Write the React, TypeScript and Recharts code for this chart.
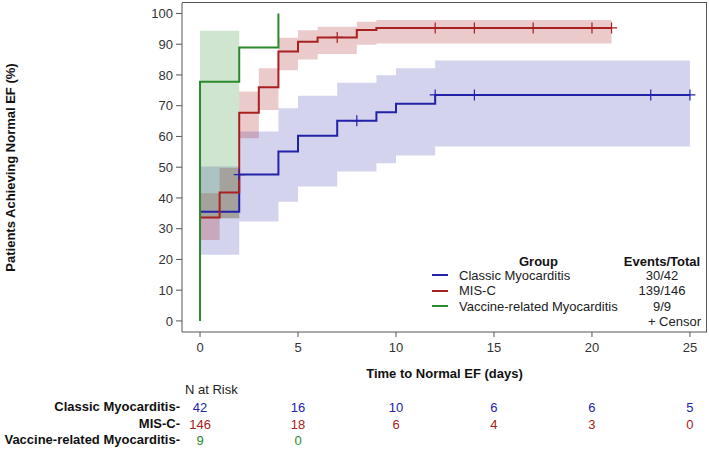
import React from 'react';
import {
  ComposedChart,
  Line,
  Area,
  Scatter,
  XAxis,
  YAxis,
} from 'recharts';

// axis ticks
const xTicks = [0, 5, 10, 15, 20, 25];
const yTicks = [0, 10, 20, 30, 40, 50, 60, 70, 80, 90, 100];

// Kaplan-Meier steps (day, % achieving normal EF)
const classicDays = [0, 2, 4, 5, 7, 9, 10, 12, 25];
const classicPct = [35.5, 47.6, 55.1, 60.2, 65.1, 67.9, 70.6, 73.5, 73.5];
const misDays = [0, 1, 2, 3, 4, 5, 6, 8, 9, 21];
const misPct = [33.6, 41.8, 67.7, 76.0, 87.6, 90.8, 92.2, 94.6, 95.3, 95.3];
const vaccineDays = [0, 0, 2, 4];
const vaccinePct = [0, 77.8, 88.9, 100];

// confidence bands
const classicBandDays = [0, 2, 4, 5, 7, 9, 10, 12, 25];
const classicLo = [21.5, 32.3, 38.8, 43.7, 48.6, 51.3, 53.8, 56.7, 56.7];
const classicHi = [50.2, 61.6, 69.2, 73.2, 77.5, 79.9, 82.2, 84.7, 84.7];
const misBandDays = [0, 1, 2, 3, 4, 5, 6, 8, 9, 21];
const misLo = [26.3, 33.4, 59.4, 68.6, 81.5, 85.0, 86.8, 89.8, 90.2, 90.2];
const misHi = [41.5, 49.7, 74.6, 82.2, 92.1, 94.5, 95.7, 97.3, 97.9, 97.9];
const vaccineBandDays = [0, 2];
const vaccineLo = [33.4, 33.4];
const vaccineHi = [94.4, 94.4];

// censored observations
const classicCensorDays = [2, 8, 12, 14, 23, 25];
const classicCensorPct = [47.6, 65.1, 73.5, 73.5, 73.5, 73.5];
const misCensorDays = [7, 12, 14, 17, 20, 21];
const misCensorPct = [92.2, 95.3, 95.3, 95.3, 95.3, 95.3];

// number at risk at each x tick
const riskClassic = [42, 16, 10, 6, 6, 5];
const riskMis = [146, 18, 6, 4, 3, 0];
const riskVaccine = [9, 0];

const groups = ['Classic Myocarditis', 'MIS-C', 'Vaccine-related Myocarditis'];
const eventsTotal = ['30/42', '139/146', '9/9'];

const BLUE = '#2222a8';
const RED = '#a82020';
const GREEN = '#2a8a2a';
const AXIS = '#555';
const FONT = '"Liberation Sans", Arial, sans-serif';

const X_MIN = -0.92;
const X_MAX = 25.87;
const Y_MIN = -3.6;
const Y_MAX = 103.4;

const toSteps = (days: number[], pct: number[]) => days.map((x, i) => ({ x, y: pct[i] }));
const toBand = (days: number[], lo: number[], hi: number[]) =>
  days.map((x, i) => ({ x, range: [lo[i], hi[i]] }));
const toRisk = (vals: number[]) => vals.map((n, i) => ({ x: xTicks[i], y: Y_MIN, n }));

const plusShape = (color: string) => (props: any) => {
  const { cx, cy } = props;
  return (
    <path
      d={`M${cx - 5.5},${cy}H${cx + 5.5}M${cx},${cy - 5.5}V${cy + 5.5}`}
      stroke={color}
      strokeWidth={1.2}
      fill="none"
    />
  );
};

// at-risk numbers hang below the x axis, one row per group
const riskShape = (color: string, dy: number) => (props: any) => (
  <text
    x={props.cx}
    y={props.cy + dy}
    fill={color}
    textAnchor="middle"
    dominantBaseline="central"
    fontSize={13}
    fontFamily={FONT}
  >
    {props.payload.n}
  </text>
);

const rowLabel: React.CSSProperties = {
  position: 'absolute',
  right: 529,
  fontWeight: 'bold',
  fontSize: 13,
  lineHeight: '16px',
  whiteSpace: 'nowrap',
  color: '#111',
};

export default function App() {
  const colors = [BLUE, RED, GREEN];
  return (
    <div style={{ position: 'absolute', left: 0, top: 0, width: 709, height: 451, fontFamily: FONT, background: '#fff' }}>
      <ComposedChart width={709} height={451} margin={{ top: 3, right: 2, left: 0, bottom: 69 }}>
        <XAxis
          dataKey="x"
          type="number"
          domain={[X_MIN, X_MAX]}
          ticks={xTicks}
          height={50}
          tickSize={5}
          tickMargin={6}
          axisLine={{ stroke: AXIS }}
          tickLine={{ stroke: AXIS }}
          tick={{ fill: '#333', fontSize: 13, fontFamily: FONT }}
          label={{
            value: 'Time to Normal EF (days)',
            position: 'insideBottom',
            offset: 4.5,
            style: { fontWeight: 'bold', fontSize: 13, fill: '#111', fontFamily: FONT },
          }}
        />
        <YAxis
          dataKey="y"
          type="number"
          domain={[Y_MIN, Y_MAX]}
          ticks={yTicks}
          width={182}
          tickSize={6}
          tickMargin={3}
          axisLine={{ stroke: AXIS }}
          tickLine={{ stroke: AXIS }}
          tick={{ fill: '#333', fontSize: 13, fontFamily: FONT }}
          label={{
            value: 'Patients Achieving Normal EF (%)',
            angle: -90,
            position: 'insideLeft',
            offset: 10,
            style: { textAnchor: 'middle', fontWeight: 'bold', fontSize: 13, fill: '#111', fontFamily: FONT },
          }}
        />

        <Area
          data={toBand(classicBandDays, classicLo, classicHi)}
          dataKey="range"
          type="stepAfter"
          fill={BLUE}
          fillOpacity={0.2}
          stroke="none"
          isAnimationActive={false}
          activeDot={false}
        />
        <Area
          data={toBand(misBandDays, misLo, misHi)}
          dataKey="range"
          type="stepAfter"
          fill={RED}
          fillOpacity={0.24}
          stroke="none"
          isAnimationActive={false}
          activeDot={false}
        />
        <Area
          data={toBand(vaccineBandDays, vaccineLo, vaccineHi)}
          dataKey="range"
          type="stepAfter"
          fill={GREEN}
          fillOpacity={0.22}
          stroke="none"
          isAnimationActive={false}
          activeDot={false}
        />

        <Line data={toSteps(classicDays, classicPct)} dataKey="y" type="stepAfter" stroke={BLUE} strokeWidth={2} dot={false} activeDot={false} isAnimationActive={false} />
        <Line data={toSteps(misDays, misPct)} dataKey="y" type="stepAfter" stroke={RED} strokeWidth={2} dot={false} activeDot={false} isAnimationActive={false} />
        <Line data={toSteps(vaccineDays, vaccinePct)} dataKey="y" type="stepAfter" stroke={GREEN} strokeWidth={2} dot={false} activeDot={false} isAnimationActive={false} />

        <Scatter data={toSteps(classicCensorDays, classicCensorPct)} shape={plusShape(BLUE)} isAnimationActive={false} />
        <Scatter data={toSteps(misCensorDays, misCensorPct)} shape={plusShape(RED)} isAnimationActive={false} />

        <Scatter data={toRisk(riskClassic)} shape={riskShape(BLUE, 75)} isAnimationActive={false} />
        <Scatter data={toRisk(riskMis)} shape={riskShape(RED, 92)} isAnimationActive={false} />
        <Scatter data={toRisk(riskVaccine)} shape={riskShape(GREEN, 108)} isAnimationActive={false} />
      </ComposedChart>

      {/* plot box frame (top and right edges) */}
      <div
        style={{
          position: 'absolute',
          left: 182,
          top: 2,
          width: 525,
          height: 330,
          boxSizing: 'border-box',
          borderTop: `1px solid ${AXIS}`,
          borderRight: `1px solid ${AXIS}`,
          pointerEvents: 'none',
        }}
      />

      {/* legend inside the plot */}
      <div style={{ position: 'absolute', left: 519, top: 254, fontWeight: 'bold', fontSize: 13, lineHeight: '15px', color: '#111' }}>Group</div>
      <div style={{ position: 'absolute', left: 600, width: 124, top: 254, textAlign: 'center', fontWeight: 'bold', fontSize: 13, lineHeight: '15px', color: '#111' }}>
        Events/Total
      </div>
      {groups.map((g, i) => (
        <React.Fragment key={g}>
          <div style={{ position: 'absolute', left: 432, top: 275 + i * 15.5 - 1, width: 16, height: 2, background: colors[i] }} />
          <div style={{ position: 'absolute', left: 459, top: 267.5 + i * 15.5, fontSize: 13, lineHeight: '15px', color: '#222', whiteSpace: 'nowrap' }}>{g}</div>
          <div style={{ position: 'absolute', left: 612, width: 100, top: 267.5 + i * 15.5, textAlign: 'center', fontSize: 13, lineHeight: '15px', color: '#222' }}>
            {eventsTotal[i]}
          </div>
        </React.Fragment>
      ))}
      <div style={{ position: 'absolute', right: 8, top: 313.5, fontSize: 13, lineHeight: '15px', color: '#222', whiteSpace: 'nowrap' }}>+ Censor</div>

      {/* at-risk table labels */}
      <div style={{ position: 'absolute', left: 185, top: 382, fontSize: 13, lineHeight: '16px', color: '#222' }}>N at Risk</div>
      <div style={{ ...rowLabel, top: 399 }}>Classic Myocarditis-</div>
      <div style={{ ...rowLabel, top: 416 }}>MIS-C-</div>
      <div style={{ ...rowLabel, top: 432 }}>Vaccine-related Myocarditis-</div>
    </div>
  );
}
